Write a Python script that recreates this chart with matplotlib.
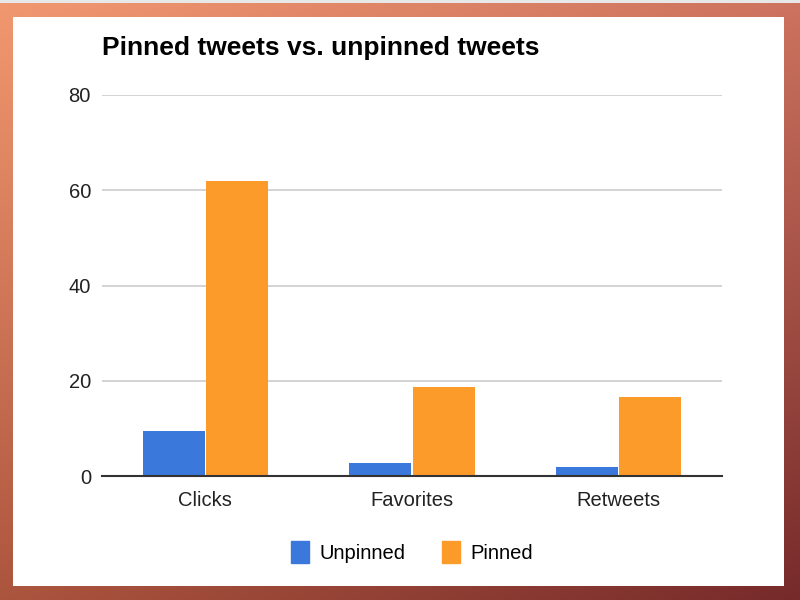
import numpy as np
import matplotlib
matplotlib.use("Agg")
import matplotlib.pyplot as plt
from matplotlib.patches import Rectangle, Patch

categories = ["Clicks", "Favorites", "Retweets"]
unpinned = [9.5, 2.8, 1.8]
pinned = [62, 18.7, 16.6]
series_names = ["Unpinned", "Pinned"]
yticks = [0, 20, 40, 60, 80]

W, H = 800, 600
fig = plt.figure(figsize=(8, 6), dpi=100)
plt.rcParams['font.family'] = ['Liberation Sans', 'DejaVu Sans']

# gradient background border
bg = fig.add_axes([0, 0, 1, 1])
bg.set_axis_off()
tl = np.array([242, 152, 112]) / 255
tr = np.array([205, 115, 95]) / 255
bl = np.array([172, 85, 62]) / 255
br = np.array([118, 42, 42]) / 255
u = np.linspace(0, 1, 200)[None, :, None]
v = np.linspace(0, 1, 150)[:, None, None]
img = (1 - v) * ((1 - u) * tl + u * tr) + v * ((1 - u) * bl + u * br)
bg.imshow(img, extent=[0, W, H, 0], aspect='auto', interpolation='bilinear')
bg.add_patch(Rectangle((0, 0), W, 2.5, color='#e8e8e8', lw=0))
bg.add_patch(Rectangle((13, 17), 784 - 13, 586 - 17, color='white', lw=0))
bg.set_xlim(0, W)
bg.set_ylim(H, 0)

ax = fig.add_axes([102 / W, 1 - 476 / H, 620 / W, 381 / H])
x = np.arange(len(categories))
bw = 0.3
ax.bar(x - bw / 2 - 0.003, unpinned, width=bw, color='#3b78db', zorder=3)
ax.bar(x + bw / 2 + 0.003, pinned, width=bw, color='#fc9a2a', zorder=3)
ax.set_xlim(-0.5, len(categories) - 0.5)
ax.set_ylim(0, 80)
ax.set_yticks(yticks)
ax.set_yticklabels([str(t) for t in yticks])
ax.set_xticks(x)
ax.set_xticklabels(categories)
ax.tick_params(axis='y', length=0, pad=8, labelsize=14.5, labelcolor='#222222')
ax.tick_params(axis='x', length=0, pad=11, labelsize=14.5, labelcolor='#222222')
ax.grid(axis='y', color='#cccccc', lw=1.2, zorder=0)
for s in ['top', 'right', 'left']:
    ax.spines[s].set_visible(False)
ax.spines['bottom'].set_color('#333333')
ax.spines['bottom'].set_linewidth(1.5)
ax.spines['bottom'].set_zorder(4)
ax.set_facecolor('none')

fig.text(102 / W, 1 - 48 / H, "Pinned tweets vs. unpinned tweets",
         fontsize=19, fontweight='bold', ha='left', va='center', color='black')

handles = [Patch(color='#3b78db'), Patch(color='#fc9a2a')]
fig.legend(handles, series_names, loc='center', bbox_to_anchor=(412 / W, 1 - 552 / H),
           ncol=2, frameon=False, fontsize=14.5, handlelength=0.9, handleheight=1.3,
           handletextpad=0.5, columnspacing=1.8)

fig.savefig("out.png", dpi=100)
